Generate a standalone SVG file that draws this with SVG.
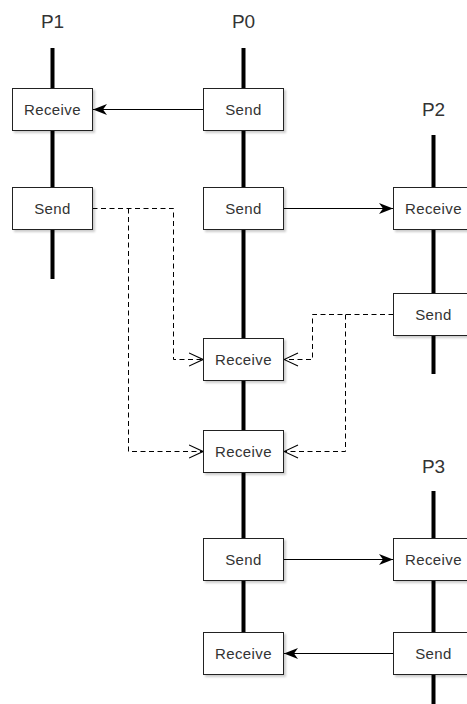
<svg xmlns="http://www.w3.org/2000/svg" width="467" height="704" viewBox="0 0 467 704">
  <style>
    .life { stroke: #000; stroke-width: 4; fill: none; }
    .box rect { fill: #fff; stroke: #222; stroke-width: 1; filter: url(#shadow); }
    .box text { font-family: "Liberation Sans", Arial, sans-serif; font-size: 15px; letter-spacing: 0.4px; fill: #333; text-anchor: middle; }
    .title { font-family: "Liberation Sans", Arial, sans-serif; font-size: 19px; fill: #333; text-anchor: middle; }
    .msg { stroke: #000; stroke-width: 1; fill: none; }
    .async { stroke: #000; stroke-width: 1; fill: none; stroke-dasharray: 5 3.5; }
  </style>
  <defs>
    <filter id="shadow" x="-10%" y="-10%" width="130%" height="140%">
      <feDropShadow dx="2" dy="2" stdDeviation="1" flood-color="#000" flood-opacity="0.2"/>
    </filter>
    <marker id="block" viewBox="0 0 14 12" refX="14" refY="6" markerWidth="14" markerHeight="12" markerUnits="userSpaceOnUse" orient="auto">
      <path d="M0,0.5 L14,6 L0,11.5 L4,6 Z" fill="#000"/>
    </marker>
    <marker id="open" viewBox="0 0 15 16" refX="14.5" refY="8" markerWidth="15" markerHeight="16" markerUnits="userSpaceOnUse" orient="auto">
      <path d="M0.5,1.5 L14.5,8 L0.5,14.5" fill="none" stroke="#000" stroke-width="1.1"/>
    </marker>
  </defs>

  <!-- process titles -->
  <g id="titles">
    <text class="title" x="52.5" y="28">P1</text>
    <text class="title" x="243.5" y="28">P0</text>
    <text class="title" x="433.5" y="116">P2</text>
    <text class="title" x="433.5" y="473">P3</text>
  </g>

  <!-- lifelines -->
  <g id="lifelines">
    <line class="life" x1="52.5" y1="48" x2="52.5" y2="279"/>
    <line class="life" x1="243.5" y1="48" x2="243.5" y2="632"/>
    <line class="life" x1="433.5" y1="135" x2="433.5" y2="374"/>
    <line class="life" x1="433.5" y1="491" x2="433.5" y2="704"/>
  </g>

  <!-- messages -->
  <g id="connectors">
    <line class="msg" x1="203.5" y1="109.5" x2="93" y2="109.5" marker-end="url(#block)"/>
    <line class="msg" x1="283.5" y1="208.5" x2="393" y2="208.5" marker-end="url(#block)"/>
    <path class="async" d="M92.5,208.5 H173.5 V359.5 H203" marker-end="url(#open)"/>
    <path class="async" d="M128.5,208.5 V451.5 H203" marker-end="url(#open)"/>
    <path class="async" d="M393.5,314.5 H312.5 V359.5 H284" marker-end="url(#open)"/>
    <path class="async" d="M345.5,314.5 V451.5 H284" marker-end="url(#open)"/>
    <line class="msg" x1="283.5" y1="559.5" x2="393" y2="559.5" marker-end="url(#block)"/>
    <line class="msg" x1="393.5" y1="653.5" x2="284" y2="653.5" marker-end="url(#block)"/>
  </g>

  <!-- P1 events -->
  <g id="p1-receive" class="box"><rect x="12.5" y="88.5" width="80" height="42"/><text x="52.5" y="115">Receive</text></g>
  <g id="p1-send" class="box"><rect x="12.5" y="187.5" width="80" height="42"/><text x="52.5" y="214">Send</text></g>

  <!-- P0 events -->
  <g id="p0-send-1" class="box"><rect x="203.5" y="88.5" width="80" height="42"/><text x="243.5" y="115">Send</text></g>
  <g id="p0-send-2" class="box"><rect x="203.5" y="187.5" width="80" height="42"/><text x="243.5" y="214">Send</text></g>
  <g id="p0-receive-1" class="box"><rect x="203.5" y="338.5" width="80" height="42"/><text x="243.5" y="365">Receive</text></g>
  <g id="p0-receive-2" class="box"><rect x="203.5" y="430.5" width="80" height="42"/><text x="243.5" y="457">Receive</text></g>
  <g id="p0-send-3" class="box"><rect x="203.5" y="538.5" width="80" height="42"/><text x="243.5" y="565">Send</text></g>
  <g id="p0-receive-3" class="box"><rect x="203.5" y="632.5" width="80" height="42"/><text x="243.5" y="659">Receive</text></g>

  <!-- P2 events -->
  <g id="p2-receive" class="box"><rect x="393.5" y="187.5" width="80" height="42"/><text x="433.5" y="214">Receive</text></g>
  <g id="p2-send" class="box"><rect x="393.5" y="293.5" width="80" height="42"/><text x="433.5" y="320">Send</text></g>

  <!-- P3 events -->
  <g id="p3-receive" class="box"><rect x="393.5" y="538.5" width="80" height="42"/><text x="433.5" y="565">Receive</text></g>
  <g id="p3-send" class="box"><rect x="393.5" y="632.5" width="80" height="42"/><text x="433.5" y="659">Send</text></g>
</svg>
